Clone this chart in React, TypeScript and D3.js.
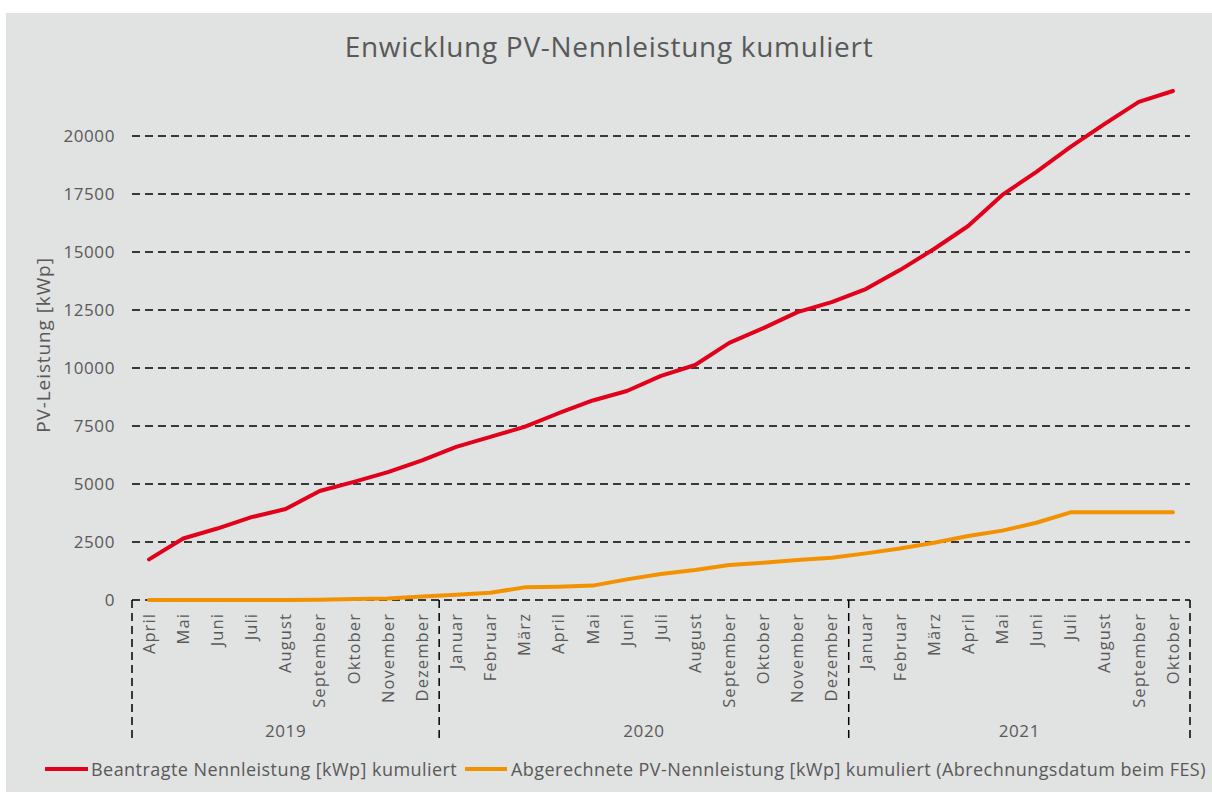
import React from "react";
import * as d3 from "d3";

const months = [
  "April","Mai","Juni","Juli","August","September","Oktober","November","Dezember",
  "Januar","Februar","März","April","Mai","Juni","Juli","August","September","Oktober","November","Dezember",
  "Januar","Februar","März","April","Mai","Juni","Juli","August","September","Oktober",
];
const years = ["2019", "2020", "2021"];
const yearCounts = [9, 12, 10];

const beantragt = [
  1750, 2650, 3080, 3570, 3920, 4700, 5090, 5510, 6020,
  6600, 7030, 7460, 8050, 8600, 9010, 9660, 10130, 11080, 11720, 12410, 12840,
  13400, 14220, 15130, 16120, 17460, 18450, 19530, 20520, 21470, 21940,
];
const abgerechnet = [
  0, 0, 0, 0, 0, 10, 40, 60, 150,
  230, 315, 545, 575, 620, 890, 1120, 1290, 1510, 1610, 1720, 1820,
  2010, 2220, 2470, 2760, 2990, 3330, 3780, 3780, 3780, 3780,
];
const yTicks = [0, 2500, 5000, 7500, 10000, 12500, 15000, 17500, 20000];

const title = "Enwicklung PV-Nennleistung kumuliert";
const yTitle = "PV-Leistung [kWp]";
const legend1 = "Beantragte Nennleistung [kWp] kumuliert";
const legend2 = "Abgerechnete PV-Nennleistung [kWp] kumuliert (Abrechnungsdatum beim FES)";

const RED = "#e2001a";
const ORANGE = "#f39200";
const TEXT = "#595959";
const FONT = "'Open Sans', 'Noto Sans', sans-serif";

export default function App() {
  const W = 1212, H = 793;
  const left = 132, right = 1190, top = 136, bottom = 600;
  const idx = months.map((_, i) => i);
  const x = d3.scaleBand<number>().domain(idx).range([left, right]).padding(0);
  const y = d3.scaleLinear().domain([0, 20000]).range([bottom, top]);
  const cx = (i: number) => (x(i) as number) + x.bandwidth() / 2;
  const line = d3.line<number>().x((_, i) => cx(i)).y((d) => y(d));

  const bounds: number[] = [0];
  yearCounts.forEach((c) => bounds.push(bounds[bounds.length - 1] + c));
  const bx = (k: number) => (k < months.length ? (x(k) as number) : right);
  const dash = "8,5";

  return (
    <svg width={W} height={H} style={{ position: "absolute", left: 0, top: 0, fontFamily: FONT }}>
      <rect x={0} y={0} width={W} height={H} fill="#ffffff" />
      <rect x={6} y={13} width={W - 6} height={H - 14} fill="#e1e2e2" />
      <text x={609} y={57} textAnchor="middle" fontSize={28} letterSpacing={0.7} fill={TEXT}>{title}</text>

      {yTicks.map((t) => (
        <g key={t}>
          {t > 0 && (
            <line x1={left} x2={right} y1={y(t)} y2={y(t)} stroke="#000" strokeWidth={1.5} strokeDasharray={dash} />
          )}
          <text x={115} y={y(t)} dy="0.35em" textAnchor="end" fontSize={17} letterSpacing={0.6} fill={TEXT}>{t}</text>
        </g>
      ))}
      <text transform={`translate(50,345) rotate(-90)`} textAnchor="middle" fontSize={19} letterSpacing={0.9} fill={TEXT}>{yTitle}</text>

      <line x1={left} x2={right} y1={bottom} y2={bottom} stroke="#000" strokeWidth={1.5} strokeDasharray={dash} />
      {bounds.map((b, k) => (
        <line key={k} x1={bx(b)} x2={bx(b)} y1={bottom} y2={742} stroke="#000" strokeWidth={1.5} strokeDasharray={dash} />
      ))}
      {months.map((m, i) => (
        <text key={i} transform={`translate(${cx(i)},613) rotate(-90)`} dy="0.35em" textAnchor="end" fontSize={16.5} letterSpacing={1.1} fill={TEXT}>{m}</text>
      ))}
      {years.map((yr, k) => (
        <text key={yr} x={(bx(bounds[k]) + bx(bounds[k + 1])) / 2} y={737} textAnchor="middle" fontSize={17} letterSpacing={0.6} fill={TEXT}>{yr}</text>
      ))}

      <path d={line(abgerechnet) as string} fill="none" stroke={ORANGE} strokeWidth={4} strokeLinejoin="round" strokeLinecap="round" />
      <path d={line(beantragt) as string} fill="none" stroke={RED} strokeWidth={4} strokeLinejoin="round" strokeLinecap="round" />

      <line x1={45} x2={88} y1={769} y2={769} stroke={RED} strokeWidth={4} />
      <text x={91} y={776} fontSize={18} letterSpacing={0.45} fill={TEXT}>{legend1}</text>
      <line x1={465} x2={507} y1={769} y2={769} stroke={ORANGE} strokeWidth={4} />
      <text x={511} y={776} fontSize={18} letterSpacing={0.45} fill={TEXT}>{legend2}</text>
    </svg>
  );
}
